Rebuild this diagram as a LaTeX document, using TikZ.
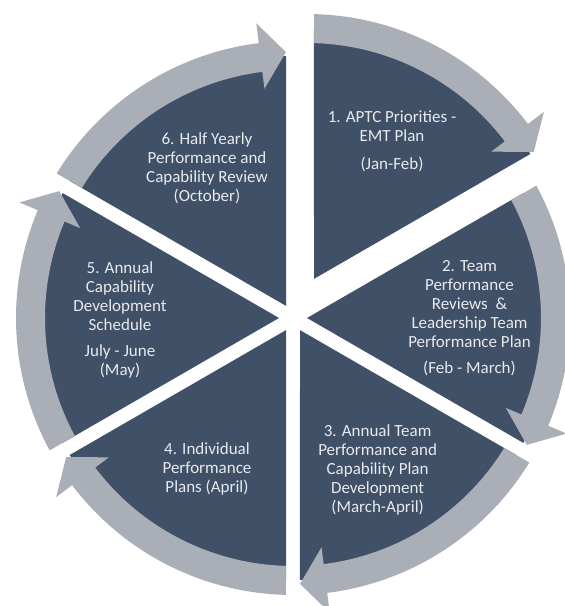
\documentclass[tikz,border=0pt]{standalone}
\usepackage{fontspec}
\setmainfont{Carlito}
\usetikzlibrary{calc}
\definecolor{sectorcol}{RGB}{64,80,103}
\definecolor{bandcol}{RGB}{170,174,182}
\definecolor{labelcol}{RGB}{232,234,238}
\newcommand\drawsector[4]{%
  \fill[sectorcol] ($(#1,#2)+({(#3+#4)/2}:14pt)$) -- ($(#1,#2)+({#3+1.53}:262pt)$)
    arc[start angle={#3+1.53}, end angle={#4-1.53}, radius=262pt] -- cycle;}
\newcommand\drawband[4]{%
  \fill[bandcol] ($(#1,#2)+({#4-1.45}:277pt)$)
    arc[start angle={#4-1.45}, end angle={#3+7.1}, radius=277pt]
    -- ($(#1,#2)+({#3+7.1}:297pt)$) -- ($(#1,#2)+({#3+1.51}:266pt)$)
    -- ($(#1,#2)+({#3+7.1}:231pt)$) -- ($(#1,#2)+({#3+7.1}:248pt)$)
    arc[start angle={#3+7.1}, end angle={#4-1.62}, radius=248pt] -- cycle;}
\tikzset{lbl/.style={text=labelcol, align=center, font=\fontsize{17}{19}\selectfont, inner sep=0pt}}
\begin{document}
\begin{tikzpicture}[x=1pt,y=1pt]
\useasboundingbox (0,0) rectangle (565,606);
\fill[white] (0,0) rectangle (565,606);
\clip (0,0) rectangle (565,606);
% sectors
\drawsector{307}{315}{30}{90}
\drawsector{293}{288}{-30}{30}
\drawsector{293}{288}{-90}{-30}
\drawsector{293}{288}{-150}{-90}
\drawsector{293}{288}{150}{210}
\drawsector{293}{288}{90}{150}
% arrows
\drawband{307}{315}{30}{90}
\drawband{293}{288}{-30}{30}
\drawband{293}{288}{-90}{-30}
\drawband{293}{288}{-150}{-90}
\drawband{293}{288}{150}{210}
\drawband{293}{288}{90}{150}
% labels
\node[lbl] (t1) at (392,464.3) {1. APTC Priorities -\\EMT Plan\\[9pt](Jan-Feb)};
\node[lbl] (t2) at (469.5,287.5) {2. Team\\Performance\\Reviews\ \ \&\\Leadership Team\\Performance Plan\\[7pt](Feb - March)};
\node[lbl] (t3) at (377.6,136.5) {3. Annual Team\\Performance and\\Capability Plan\\Development\\(March-April)};
\node[lbl] (t4) at (207,136.7) {4. Individual\\Performance\\Plans (April)};
\node[lbl] (t5) at (120,286) {5. Annual\\Capability\\Development\\Schedule\\[7pt]July - June\\(May)};
\node[lbl] (t6) at (207,437.9) {6. Half Yearly\\Performance and\\Capability Review\\(October)};
\end{tikzpicture}
\end{document}
